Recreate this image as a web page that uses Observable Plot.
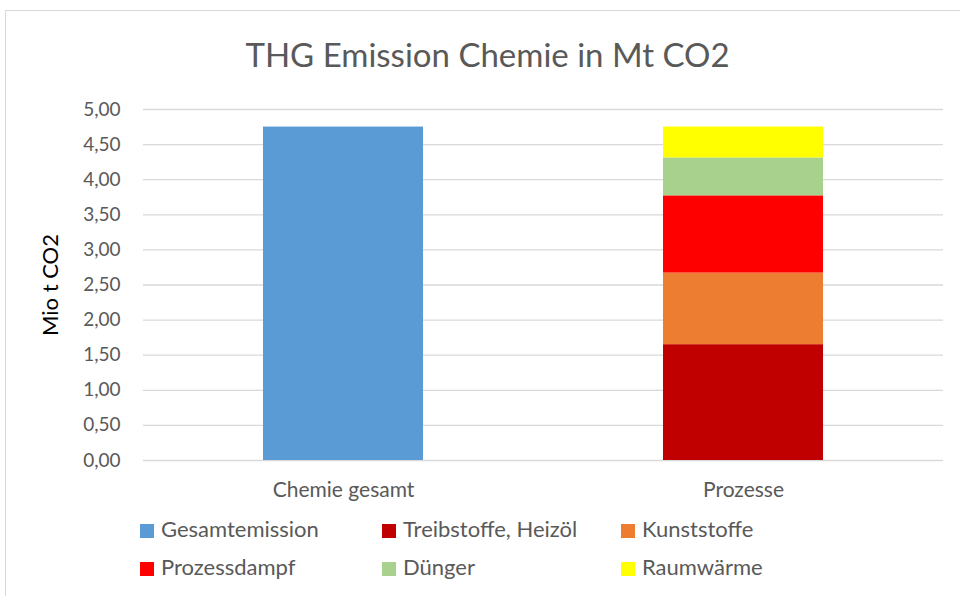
<!DOCTYPE html>
<html>
<head>
<meta charset="utf-8">
<script src="https://cdn.jsdelivr.net/npm/d3@7"></script>
<script src="https://cdn.jsdelivr.net/npm/@observablehq/plot@0.6"></script>
<style>
  html, body { margin: 0; padding: 0; overflow: hidden; background: #fff; }
  #wrap { position: relative; width: 960px; height: 596px; overflow: hidden; font-family: Lato, sans-serif; }
  #frame { position: absolute; left: 5px; top: 10px; width: 1000px; height: 700px; border: 1px solid #d9d9d9; box-sizing: border-box; }
  #title { position: absolute; left: 0; top: 34px; width: 975px; text-align: center; font-size: 33px; line-height: 40px; color: #595959; }
  #chart { position: absolute; left: 0; top: 85px; }
  #chart g[aria-label="y-axis label"] text { fill: #000; font-size: 22px; }
  #legend { position: absolute; left: 140px; top: 510px; display: grid; grid-template-columns: 242px 239px 200px; }
  .item { display: flex; align-items: center; height: 38px; font-size: 22px; line-height: 38px; color: #595959; white-space: nowrap; }
  .sw { width: 14px; height: 14px; margin-right: 7px; position: relative; top: 2px; }
</style>
</head>
<body>
<div id="wrap">
  <div id="frame"></div>
  <div id="title">THG Emission Chemie in Mt CO2</div>
  <div id="chart"></div>
  <div id="legend"></div>
</div>
<script>
const categories = ["Chemie gesamt", "Prozesse"];
const series = ["Gesamtemission", "Treibstoffe, Heizöl", "Kunststoffe", "Prozessdampf", "Dünger", "Raumwärme"];
const seriesColors = ["#5b9bd5", "#c00000", "#ed7d31", "#ff0000", "#a9d18e", "#ffff00"];
const chemieGesamt = [4.75, 0, 0, 0, 0, 0];
const prozesse = [0, 1.65, 1.02, 1.10, 0.54, 0.44];
const yTicks = [0, 0.5, 1, 1.5, 2, 2.5, 3, 3.5, 4, 4.5, 5];
const yLabel = "Mio t CO2";

const rows = [];
series.forEach((s, i) => {
  if (chemieGesamt[i] > 0) rows.push({category: categories[0], series: s, value: chemieGesamt[i]});
  if (prozesse[i] > 0) rows.push({category: categories[1], series: s, value: prozesse[i]});
});

const fmt = d => d.toFixed(2).replace(".", ",");

const chart = Plot.plot({
  width: 960,
  height: 425,
  marginLeft: 143,
  marginRight: 17,
  marginTop: 24,
  marginBottom: 50,
  style: {fontFamily: "Lato, sans-serif", fontSize: "19px", color: "#595959", background: "transparent"},
  x: {domain: categories, paddingInner: 0.6, paddingOuter: 0.3, label: null},
  y: {domain: [0, 5]},
  color: {domain: series, range: seriesColors},
  marks: [
    Plot.gridY(yTicks, {stroke: "#d9d9d9", strokeOpacity: 1, strokeWidth: 1.3}),
    Plot.barY(rows, {x: "category", y: "value", fill: "series", order: series}),
    Plot.axisY(yTicks, {tickSize: 0, tickPadding: 23, tickFormat: fmt, fontSize: 19, label: yLabel, labelAnchor: "center", labelArrow: "none", labelOffset: 101}),
    Plot.axisX({tickSize: 0, tickPadding: 22, fontSize: 21, label: null})
  ]
});
document.getElementById("chart").appendChild(chart);

const legendOrder = [0, 1, 2, 3, 4, 5];
const legend = document.getElementById("legend");
legendOrder.forEach(i => {
  const it = document.createElement("div");
  it.className = "item";
  const sw = document.createElement("span");
  sw.className = "sw";
  sw.style.background = seriesColors[i];
  const tx = document.createElement("span");
  tx.textContent = series[i];
  it.appendChild(sw);
  it.appendChild(tx);
  legend.appendChild(it);
});
</script>
</body>
</html>
